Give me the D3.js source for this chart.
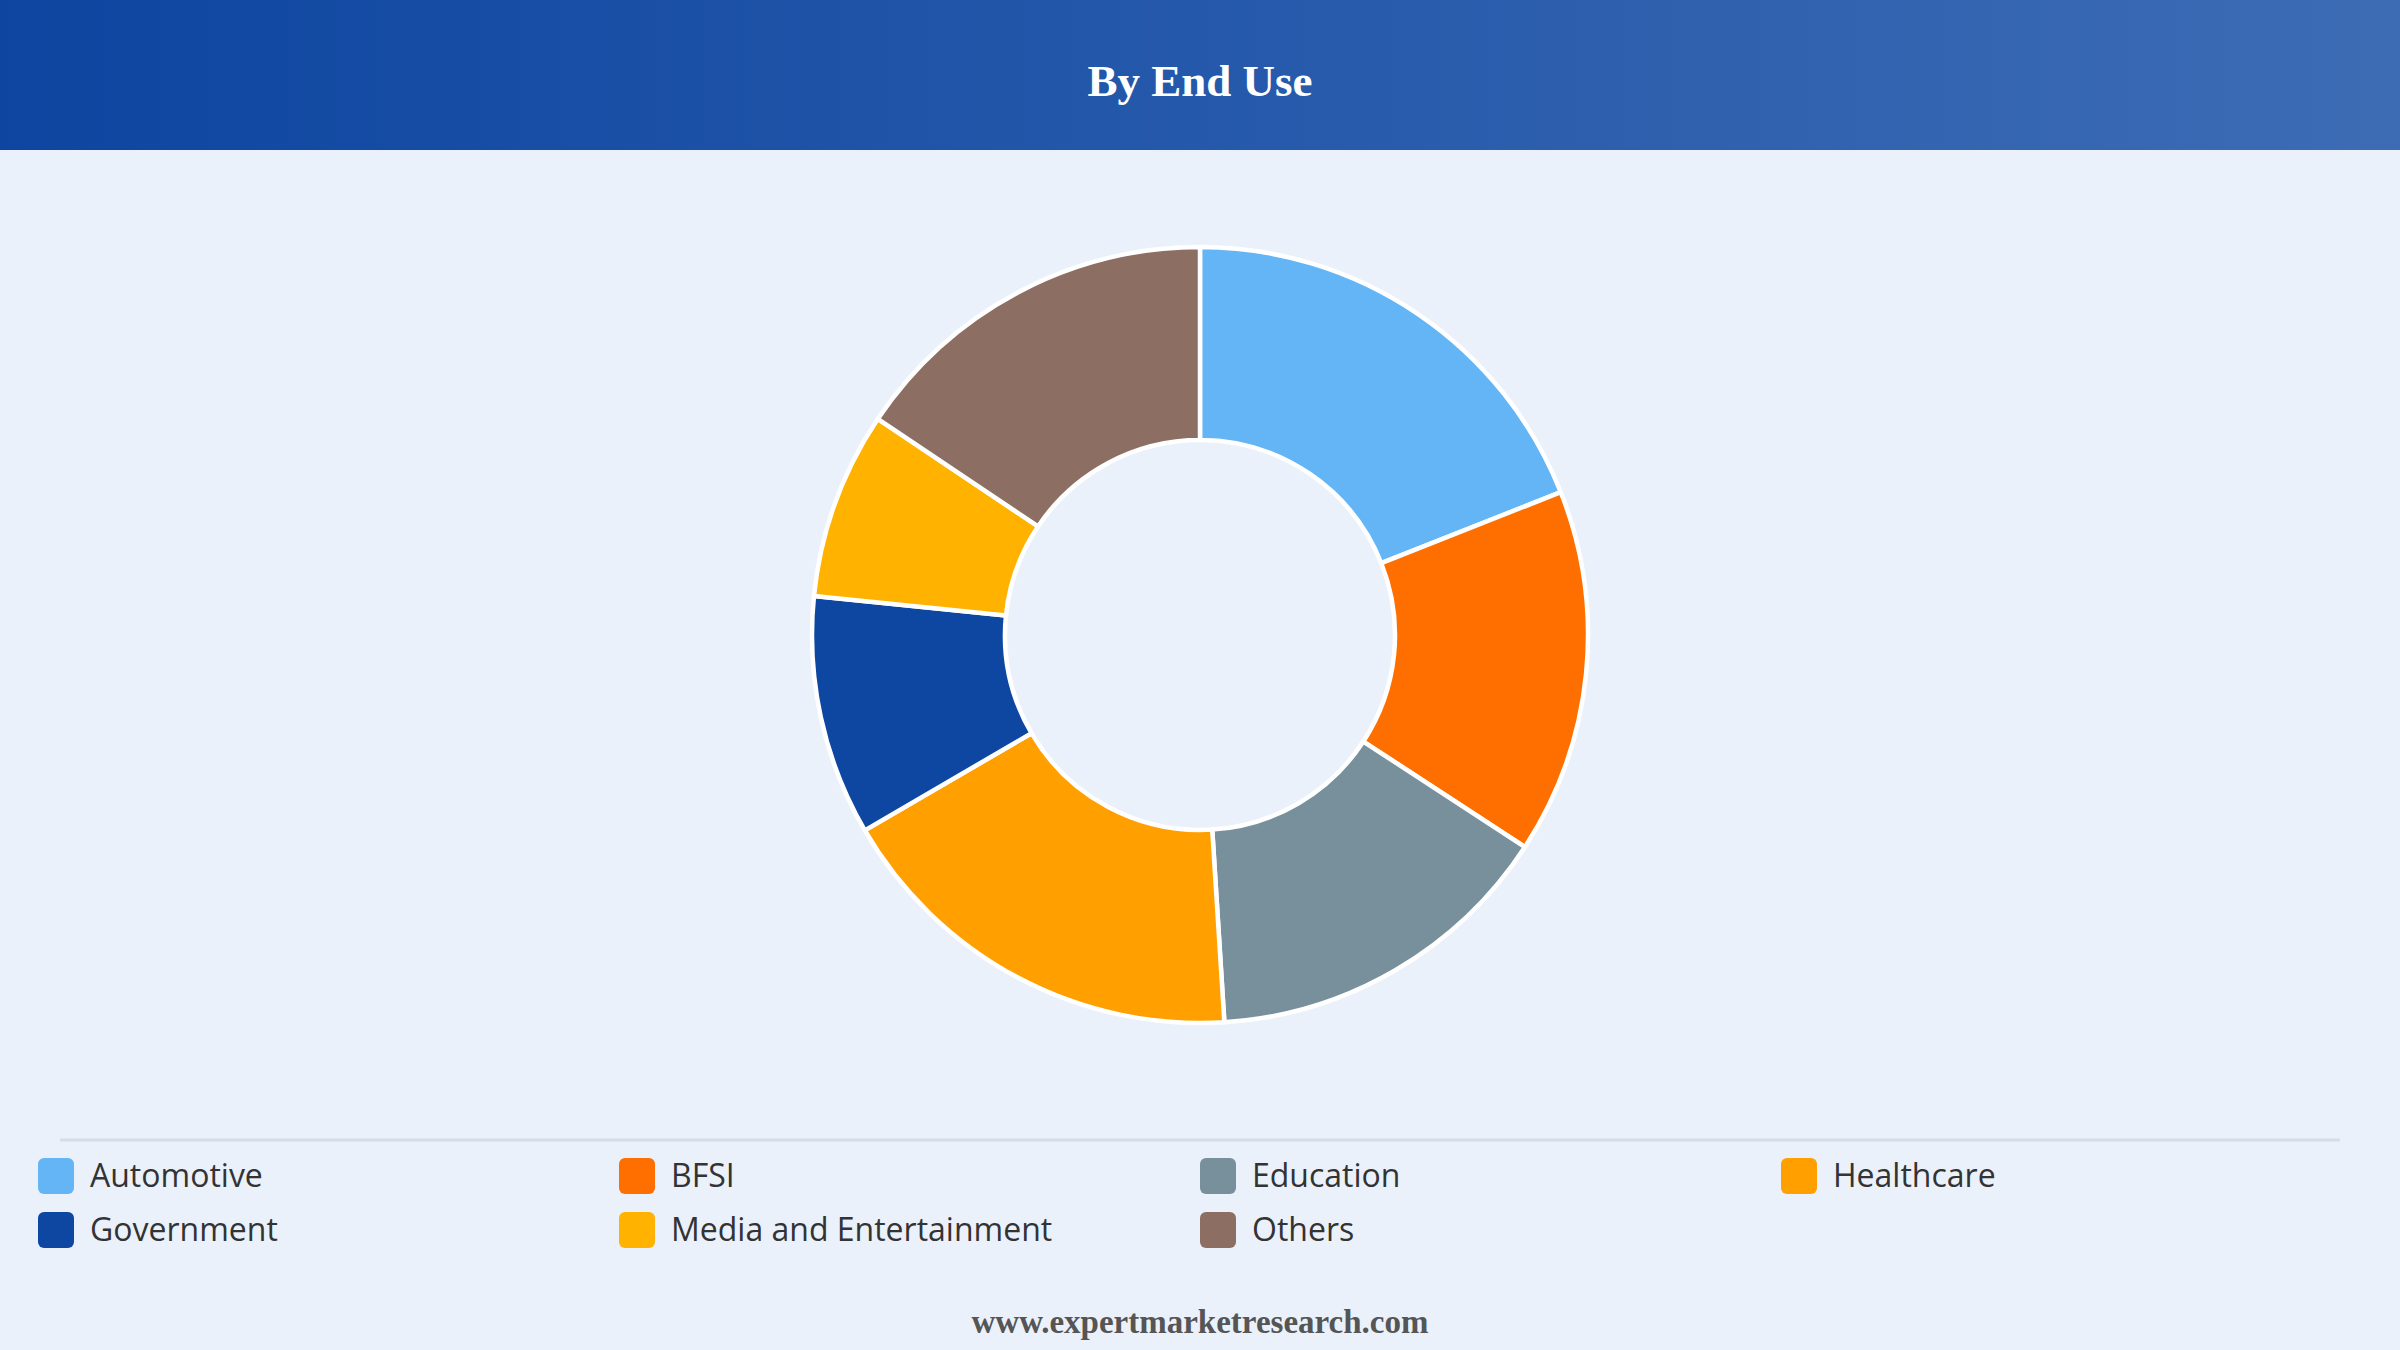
<!DOCTYPE html>
<html>
<head>
<meta charset="utf-8">
<script src="https://cdn.jsdelivr.net/npm/d3@7"></script>
<style>
  html, body { margin: 0; padding: 0; background: #eaf1fb; }
  svg { display: block; }
</style>
</head>
<body>
<svg id="chart" width="2400" height="1350"></svg>
<script>
const title = "By End Use";
const footer = "www.expertmarketresearch.com";
const categories = ["Automotive", "BFSI", "Education", "Healthcare", "Government", "Media and Entertainment", "Others"];
const values = [19.0, 15.2, 14.8, 17.6, 10.0, 7.8, 15.6];
const colors = ["#64b5f6", "#ff6f00", "#78909c", "#ffa000", "#0d47a1", "#ffb300", "#8d6e63"];

const W = 2400, H = 1350;
const svg = d3.select("#chart");

// background
svg.append("rect").attr("width", W).attr("height", H).attr("fill", "#eaf1fb");

// header gradient
const defs = svg.append("defs");
const grad = defs.append("linearGradient").attr("id", "hdr").attr("x1", "0").attr("x2", "1").attr("y1", "0").attr("y2", "0");
grad.append("stop").attr("offset", "0%").attr("stop-color", "#0d45a0");
grad.append("stop").attr("offset", "100%").attr("stop-color", "#3d6cb5");
svg.append("rect").attr("width", W).attr("height", 150).attr("fill", "url(#hdr)");
svg.append("text").attr("x", W / 2).attr("y", 96).attr("text-anchor", "middle")
  .attr("font-family", "'Liberation Serif', 'Times New Roman', serif").attr("font-weight", "bold")
  .attr("font-size", 45).attr("fill", "#ffffff").text(title);

// donut
const color = d3.scaleOrdinal().domain(categories).range(colors);
const data = categories.map((c, i) => ({ name: c, value: values[i] }));
const pie = d3.pie().value(d => d.value).sort(null);
const arc = d3.arc().innerRadius(195).outerRadius(388);
const g = svg.append("g").attr("transform", "translate(1200,635)");
g.selectAll("path").data(pie(data)).enter().append("path")
  .attr("d", arc).attr("fill", d => color(d.data.name))
  .attr("stroke", "#ffffff").attr("stroke-width", 4.5).attr("stroke-linejoin", "round");

// legend separator
svg.append("line").attr("x1", 60).attr("x2", 2340).attr("y1", 1140).attr("y2", 1140)
  .attr("stroke", "#d9dde3").attr("stroke-width", 3);

// legend
const colX = d3.scaleBand().domain(d3.range(4)).range([38, 38 + 581 * 4]);
const rowY = d3.scaleBand().domain(d3.range(2)).range([1149, 1257]);
const leg = svg.append("g");
const items = leg.selectAll("g").data(categories).enter().append("g")
  .attr("transform", (d, i) => `translate(${colX(i % 4)},${rowY(Math.floor(i / 4)) + rowY.bandwidth() / 2})`);
items.append("rect").attr("x", 0).attr("y", -18).attr("width", 36).attr("height", 36)
  .attr("rx", 6).attr("fill", d => color(d));
items.append("text").attr("x", 52).attr("y", 0).attr("dy", "0.35em")
  .attr("font-family", "'Open Sans', 'Noto Sans', sans-serif").attr("font-size", 32)
  .attr("font-weight", 500)
  .attr("fill", "#333333").text(d => d);

// footer
svg.append("text").attr("x", W / 2).attr("y", 1333).attr("text-anchor", "middle")
  .attr("font-family", "'Liberation Serif', 'Times New Roman', serif").attr("font-weight", "bold")
  .attr("font-size", 33).attr("fill", "#555555").text(footer);
</script>
</body>
</html>
